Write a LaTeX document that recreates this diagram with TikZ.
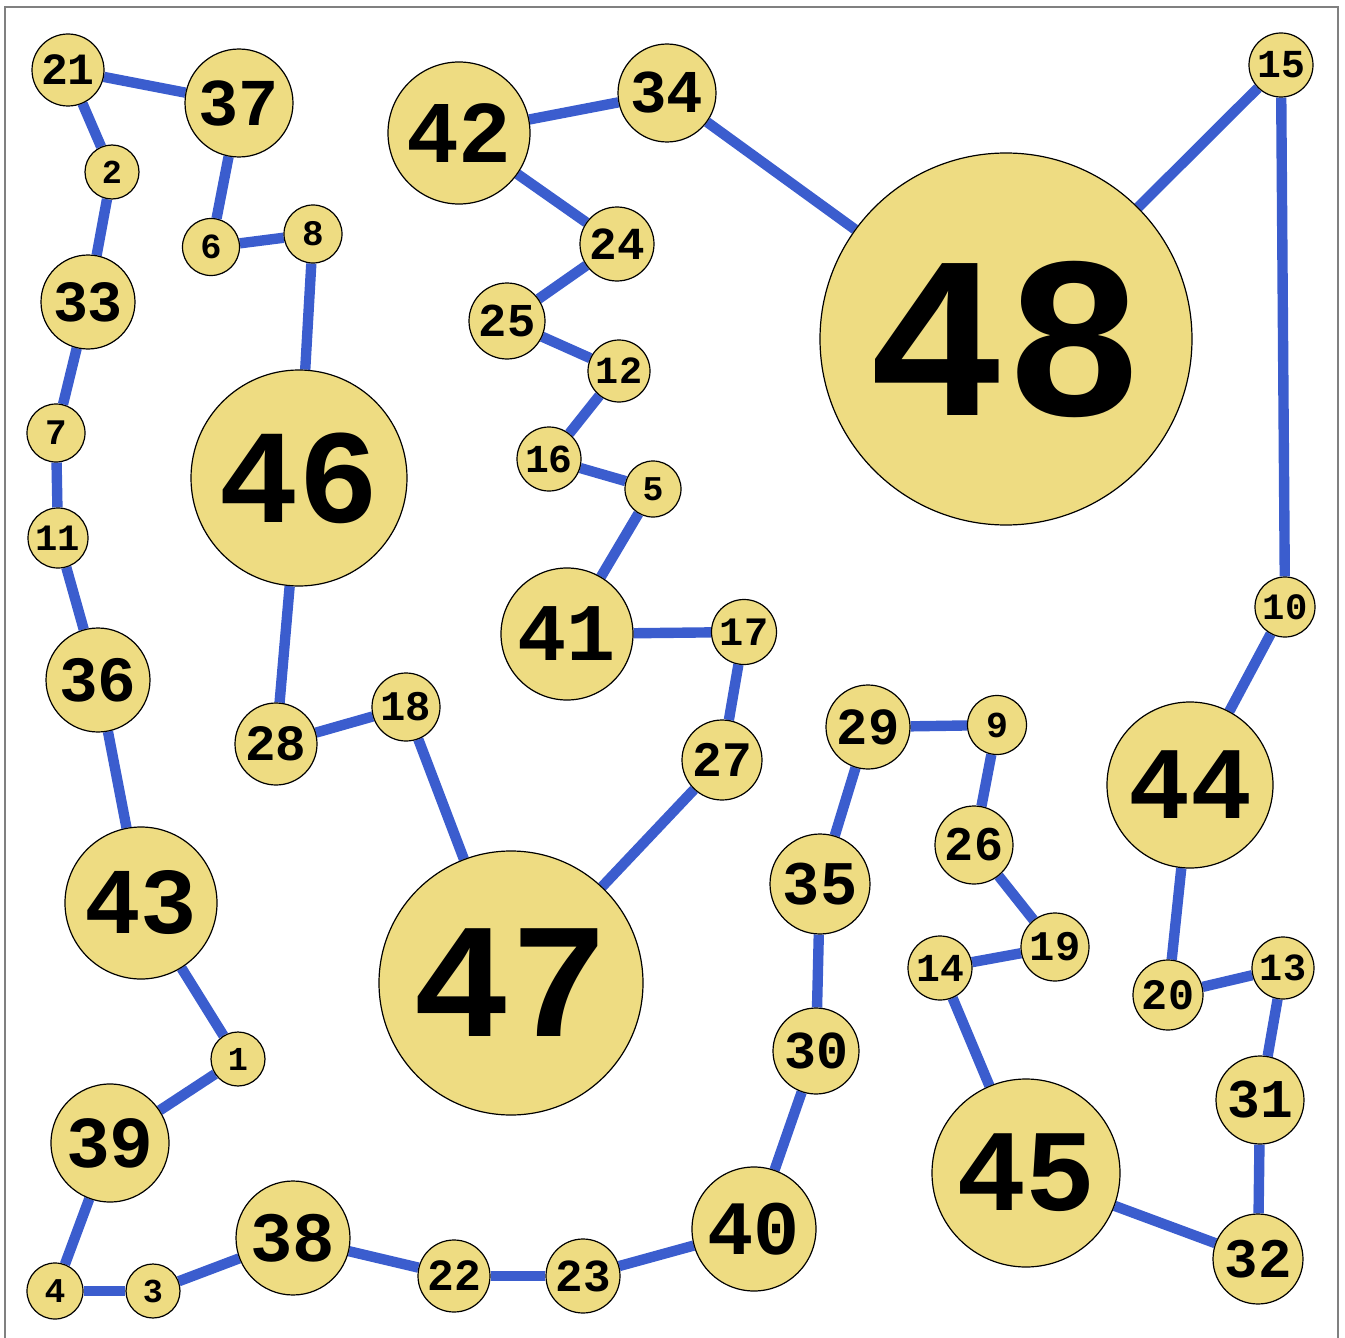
\documentclass[tikz,border=0pt]{standalone}
\usepackage{fontspec}
\setmonofont{Liberation Mono}
\usepackage{tikz}
\usetikzlibrary{backgrounds}

\definecolor{vtxfill}{RGB}{238,220,130}
\definecolor{linkblue}{RGB}{59,93,206}

% font size follows the circle radius
\newcommand{\vtxfont}[1]{\pgfmathsetmacro\vtxsize{0.62*#1}\fontsize{\vtxsize pt}{\vtxsize pt}\selectfont\ttfamily\bfseries}

\begin{document}
\begin{tikzpicture}[
    x=0.5pt, y=-0.5pt,
    vertex/.style={circle, draw, line width=0.6pt, fill=vtxfill, inner sep=0pt, minimum size=#1pt, font=\vtxfont{#1}},
    link/.style={draw=linkblue, line width=5.2pt},
    frame/.style={draw=gray, line width=0.8pt}
]
\useasboundingbox (0,0) rectangle (1345,1338);
\draw[frame] (5,7) rectangle (1338,1350);

% Left column
\node[vertex=36] (n21) at (68,70) {21};
\node[vertex=54] (n37) at (239,103) {37};
\node[vertex=27] (n2) at (112,172) {2};
\node[vertex=28.5] (n6) at (211,247) {6};
\node[vertex=29] (n8) at (313,234) {8};
\node[vertex=47] (n33) at (88,302) {33};
\node[vertex=29] (n7) at (56,433) {7};
\node[vertex=30] (n11) at (58,538) {11};
\node[vertex=52] (n36) at (98,680) {36};
\node[vertex=108] (n46) at (299,478) {46};
\node[vertex=41] (n28) at (276,744) {28};
\node[vertex=34] (n18) at (406,707) {18};
\node[vertex=76] (n43) at (141,903) {43};
\node[vertex=27] (n1) at (238,1059) {1};
\node[vertex=59] (n39) at (110,1143) {39};
\node[vertex=28] (n4) at (55,1291) {4};
\node[vertex=27] (n3) at (153,1291) {3};
\node[vertex=57] (n38) at (293,1238) {38};
\node[vertex=36] (n22) at (454,1276) {22};
\node[vertex=37] (n23) at (583,1276) {23};

% Middle
\node[vertex=62] (n40) at (754,1229) {40};
\node[vertex=132] (n47) at (511,983) {47};
\node[vertex=40] (n27) at (722,760) {27};
\node[vertex=32.5] (n17) at (744,632) {17};
\node[vertex=66] (n41) at (567,634) {41};
\node[vertex=28] (n5) at (653,489) {5};
\node[vertex=32] (n16) at (549,459) {16};
\node[vertex=31] (n12) at (619,371) {12};
\node[vertex=38] (n25) at (507,321) {25};
\node[vertex=37] (n24) at (617,244) {24};
\node[vertex=71] (n42) at (459,133) {42};
\node[vertex=49] (n34) at (667,93) {34};

% Right side
\node[vertex=186] (n48) at (1006,339) {48};
\node[vertex=32] (n15) at (1281,65) {15};
\node[vertex=30] (n10) at (1285,607) {10};
\node[vertex=83] (n44) at (1190,785) {44};
\node[vertex=42] (n29) at (868,727) {29};
\node[vertex=29.5] (n9) at (997,725) {9};
\node[vertex=39] (n26) at (974,845) {26};
\node[vertex=34] (n19) at (1055,947) {19};
\node[vertex=32] (n14) at (940,968) {14};
\node[vertex=50] (n35) at (820,884) {35};
\node[vertex=43] (n30) at (816,1051) {30};
\node[vertex=94] (n45) at (1026,1173) {45};
\node[vertex=35] (n20) at (1168,995) {20};
\node[vertex=31] (n13) at (1283,968) {13};
\node[vertex=44] (n31) at (1260,1100) {31};
\node[vertex=45] (n32) at (1258,1259) {32};

% Tour edges
\begin{scope}[on background layer]
\draw[link] (n47) -- (n18);
\draw[link] (n18) -- (n28);
\draw[link] (n28) -- (n46);
\draw[link] (n46) -- (n8);
\draw[link] (n8) -- (n6);
\draw[link] (n6) -- (n37);
\draw[link] (n37) -- (n21);
\draw[link] (n21) -- (n2);
\draw[link] (n2) -- (n33);
\draw[link] (n33) -- (n7);
\draw[link] (n7) -- (n11);
\draw[link] (n11) -- (n36);
\draw[link] (n36) -- (n43);
\draw[link] (n43) -- (n1);
\draw[link] (n1) -- (n39);
\draw[link] (n39) -- (n4);
\draw[link] (n4) -- (n3);
\draw[link] (n3) -- (n38);
\draw[link] (n38) -- (n22);
\draw[link] (n22) -- (n23);
\draw[link] (n23) -- (n40);
\draw[link] (n40) -- (n30);
\draw[link] (n30) -- (n35);
\draw[link] (n35) -- (n29);
\draw[link] (n29) -- (n9);
\draw[link] (n9) -- (n26);
\draw[link] (n26) -- (n19);
\draw[link] (n19) -- (n14);
\draw[link] (n14) -- (n45);
\draw[link] (n45) -- (n32);
\draw[link] (n32) -- (n31);
\draw[link] (n31) -- (n13);
\draw[link] (n13) -- (n20);
\draw[link] (n20) -- (n44);
\draw[link] (n44) -- (n10);
\draw[link] (n10) -- (n15);
\draw[link] (n15) -- (n48);
\draw[link] (n48) -- (n34);
\draw[link] (n34) -- (n42);
\draw[link] (n42) -- (n24);
\draw[link] (n24) -- (n25);
\draw[link] (n25) -- (n12);
\draw[link] (n12) -- (n16);
\draw[link] (n16) -- (n5);
\draw[link] (n5) -- (n41);
\draw[link] (n41) -- (n17);
\draw[link] (n17) -- (n27);
\draw[link] (n27) -- (n47);
\end{scope}

\end{tikzpicture}
\end{document}
